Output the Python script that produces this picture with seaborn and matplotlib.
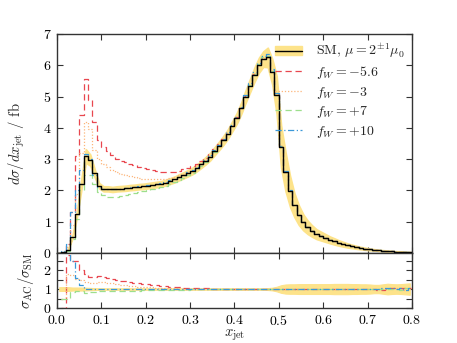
import numpy as np
import matplotlib
matplotlib.use("Agg")
import matplotlib.pyplot as plt
import seaborn as sns
from matplotlib.patches import Patch
from matplotlib.lines import Line2D
from matplotlib.ticker import FixedLocator, NullFormatter

# bin edges of x_jet (80 bins of 0.01)
edges = np.round(np.arange(0, 0.81, 0.01), 2)

# SM central prediction, dsigma/dx_jet [fb]
sm = [0.0, 0.02, 0.1, 0.52, 1.25, 2.2, 3.1, 2.97, 2.55, 2.15,
      2.05, 2.05, 2.03, 2.05, 2.06, 2.07, 2.09, 2.1, 2.12, 2.13,
      2.15, 2.17, 2.19, 2.21, 2.25, 2.3, 2.35, 2.42, 2.48, 2.55,
      2.62, 2.72, 2.83, 2.95, 3.08, 3.25, 3.42, 3.6, 3.8, 4.05,
      4.3, 4.62, 5.0, 5.35, 5.7, 6.0, 6.2, 6.25, 5.8, 5.05,
      3.4, 2.6, 1.98, 1.53, 1.21, 0.98, 0.82, 0.7, 0.6, 0.54,
      0.48, 0.42, 0.37, 0.32, 0.28, 0.24, 0.21, 0.18, 0.155, 0.135,
      0.115, 0.1, 0.085, 0.072, 0.062, 0.052, 0.044, 0.037, 0.031, 0.026]

# relative scale uncertainty of SM (mu = 2^{+-1} mu_0)
band_rel = [0.1, 0.1, 0.1, 0.08, 0.08, 0.08, 0.07, 0.06, 0.05, 0.04,
            0.04, 0.04, 0.04, 0.04, 0.04, 0.04, 0.04, 0.04, 0.04, 0.04,
            0.04, 0.04, 0.04, 0.04, 0.04, 0.04, 0.04, 0.04, 0.04, 0.04,
            0.04, 0.04, 0.04, 0.04, 0.04, 0.04, 0.04, 0.04, 0.04, 0.04,
            0.04, 0.04, 0.04, 0.04, 0.04, 0.04, 0.04, 0.05, 0.07, 0.12,
            0.2, 0.24, 0.25, 0.25, 0.26, 0.26, 0.26, 0.26, 0.26, 0.26,
            0.26, 0.26, 0.27, 0.27, 0.27, 0.27, 0.26, 0.26, 0.25, 0.25,
            0.24, 0.22, 0.22, 0.25, 0.28, 0.26, 0.25, 0.26, 0.28, 0.3]

# anomalous couplings
fw_m56 = [0.0, 0.0, 0.28, 1.3, 3.1, 4.4, 5.55, 4.9, 4.2, 3.6,
          3.4, 3.25, 3.12, 3.02, 2.95, 2.9, 2.85, 2.8, 2.76, 2.72,
          2.7, 2.66, 2.63, 2.6, 2.58, 2.6, 2.6, 2.63, 2.67, 2.72,
          2.78, 2.86, 2.95, 3.05, 3.18, 3.33, 3.48, 3.65, 3.85, 4.1,
          4.35, 4.65, 5.02, 5.38, 5.72, 6.02, 6.22, 6.27, 5.82, 5.07,
          3.42, 2.6, 1.99, 1.53, 1.22, 0.98, 0.82, 0.71, 0.6, 0.54,
          0.48, 0.42, 0.37, 0.32, 0.28, 0.24, 0.21, 0.18, 0.156, 0.135,
          0.115, 0.1, 0.081, 0.069, 0.062, 0.054, 0.047, 0.039, 0.032, 0.027]

fw_m3 = [0.0, 0.01, 0.18, 0.9, 1.9, 3.2, 4.2, 3.95, 3.3, 3.0,
         2.85, 2.75, 2.65, 2.58, 2.52, 2.48, 2.45, 2.42, 2.4, 2.38,
         2.37, 2.36, 2.36, 2.37, 2.38, 2.4, 2.43, 2.48, 2.53, 2.59,
         2.66, 2.75, 2.86, 2.97, 3.1, 3.27, 3.44, 3.62, 3.82, 4.07,
         4.32, 4.64, 5.02, 5.37, 5.72, 6.02, 6.24, 6.28, 5.82, 5.06,
         3.41, 2.61, 1.98, 1.54, 1.21, 0.98, 0.82, 0.7, 0.6, 0.54,
         0.48, 0.42, 0.37, 0.32, 0.28, 0.24, 0.21, 0.18, 0.155, 0.135,
         0.114, 0.1, 0.086, 0.074, 0.063, 0.051, 0.046, 0.038, 0.03, 0.027]

fw_p7 = [0.0, 0.01, 0.05, 0.45, 1.1, 2.0, 2.5, 2.48, 2.2, 1.95,
         1.85, 1.8, 1.78, 1.8, 1.82, 1.85, 1.88, 1.92, 1.95, 1.98,
         2.01, 2.04, 2.07, 2.1, 2.15, 2.2, 2.26, 2.33, 2.4, 2.48,
         2.56, 2.67, 2.79, 2.92, 3.06, 3.23, 3.41, 3.6, 3.8, 4.05,
         4.3, 4.63, 5.01, 5.37, 5.72, 6.03, 6.25, 6.3, 5.83, 5.06,
         3.41, 2.6, 1.99, 1.53, 1.21, 0.98, 0.82, 0.7, 0.6, 0.54,
         0.48, 0.42, 0.37, 0.32, 0.28, 0.24, 0.21, 0.18, 0.155, 0.135,
         0.116, 0.1, 0.084, 0.071, 0.063, 0.053, 0.045, 0.036, 0.032, 0.025]

fw_p10 = [0.0, 0.06, 0.3, 1.3, 2.0, 2.65, 3.15, 3.0, 2.5, 2.12,
          2.05, 2.03, 2.03, 2.05, 2.06, 2.08, 2.1, 2.11, 2.13, 2.14,
          2.16, 2.18, 2.2, 2.23, 2.27, 2.32, 2.37, 2.44, 2.5, 2.58,
          2.65, 2.75, 2.86, 2.98, 3.12, 3.28, 3.46, 3.65, 3.86, 4.1,
          4.36, 4.68, 5.06, 5.42, 5.78, 6.08, 6.3, 6.35, 5.88, 5.1,
          3.43, 2.62, 2.0, 1.54, 1.22, 0.99, 0.83, 0.7, 0.61, 0.54,
          0.49, 0.42, 0.37, 0.32, 0.28, 0.24, 0.21, 0.18, 0.156, 0.136,
          0.115, 0.1, 0.086, 0.075, 0.064, 0.055, 0.045, 0.039, 0.03, 0.027]

labels = [r"$f_W = -5.6$", r"$f_W = -3$", r"$f_W = +7$", r"$f_W = +10$"]
colors = ["#e8474f", "#fdb57a", "#9ddf8c", "#3a98d8"]
styles = [(0, (5, 3)), (0, (1, 1.5)), (0, (5, 3)), (0, (5, 2, 1, 2))]
band_color = "#fde38a"

sns.set_style("ticks")
plt.rcParams["font.family"] = "serif"
plt.rcParams["font.serif"] = ["cmr10", "DejaVu Serif"]
plt.rcParams["mathtext.fontset"] = "cm"
plt.rcParams["axes.formatter.use_mathtext"] = True
plt.rcParams["font.size"] = 10

fig = plt.figure(figsize=(4.57, 3.43), dpi=100)
ax = fig.add_axes([0.1247, 0.2624, 0.7768, 0.6385])
axr = fig.add_axes([0.1247, 0.102, 0.7768, 0.1604])

centers = (edges[:-1] + edges[1:]) / 2
sm_a = np.array(sm)
rel = np.array(band_rel)


def steps(a, y, **kw):
    y = np.asarray(y, dtype=float)
    sns.lineplot(x=edges, y=np.append(y, y[-1]), ax=a, drawstyle="steps-post",
                 estimator=None, sort=False, **kw)


# main panel
ax.fill_between(centers, sm_a * (1 - rel), sm_a * (1 + rel), color=band_color,
                lw=1.2, edgecolor=band_color, zorder=1)
steps(ax, sm, color="black", lw=1.0, zorder=5)
for vals, c, ls in zip([fw_m56, fw_m3, fw_p7, fw_p10], colors, styles):
    steps(ax, vals, color=c, lw=0.9, linestyle=ls, zorder=4)

# ratio panel
axr.fill_between(centers, 1 - rel, 1 + rel, color=band_color, lw=0.8,
                 edgecolor=band_color, zorder=1)
with np.errstate(divide="ignore", invalid="ignore"):
    for vals, c, ls in zip([fw_m56, fw_m3, fw_p7, fw_p10], colors, styles):
        r = np.where(sm_a > 0, np.array(vals) / np.where(sm_a > 0, sm_a, 1), np.nan)
        steps(axr, r, color=c, lw=0.9, linestyle=ls, zorder=4)

for a in (ax, axr):
    a.set_xlim(0, 0.8)
    a.set_xticks(np.round(np.arange(0, 0.81, 0.1), 1))
    a.tick_params(direction="in", top=True, right=True, length=4, width=0.8,
                  colors="#333333", labelcolor="black", labelsize=10, pad=4)
    for s in a.spines.values():
        s.set_color("#333333")
        s.set_linewidth(1.0)

ax.set_ylim(0, 7)
ax.set_yticks(range(0, 8))
ax.xaxis.set_major_formatter(NullFormatter())
ax.set_xlabel("")
ax.set_ylabel(r"$d\sigma/dx_{\rm jet}$ / fb", fontsize=10.5)
ax.yaxis.set_label_coords(-0.085, 0.5)

axr.set_ylim(0, 2.9)
axr.yaxis.set_major_locator(FixedLocator([0, 1, 2]))
axr.yaxis.set_minor_locator(FixedLocator([0.5, 1.5, 2.5]))
axr.tick_params(which="minor", direction="in", right=True, length=4, width=0.8,
                colors="#333333")
axr.set_xlabel(r"$x_{\rm jet}$", fontsize=10.5, labelpad=0)
axr.set_ylabel(r"$\sigma_{\rm AC}/\sigma_{\rm SM}$", fontsize=10.5)
axr.yaxis.set_label_coords(-0.06, 0.5)

handles = [(Patch(facecolor=band_color, edgecolor=band_color),
            Line2D([], [], color="black", lw=1.0))]
for c, ls in zip(colors, styles):
    handles.append(Line2D([], [], color=c, lw=0.9, linestyle=ls))
ax.legend(handles, [r"SM, $\mu = 2^{\pm 1}\mu_0$"] + labels, loc="upper right",
          frameon=False, fontsize=10, handlelength=1.9, labelspacing=0.25,
          borderaxespad=0.15, handletextpad=1.0)

fig.savefig("out.png", dpi=100)
